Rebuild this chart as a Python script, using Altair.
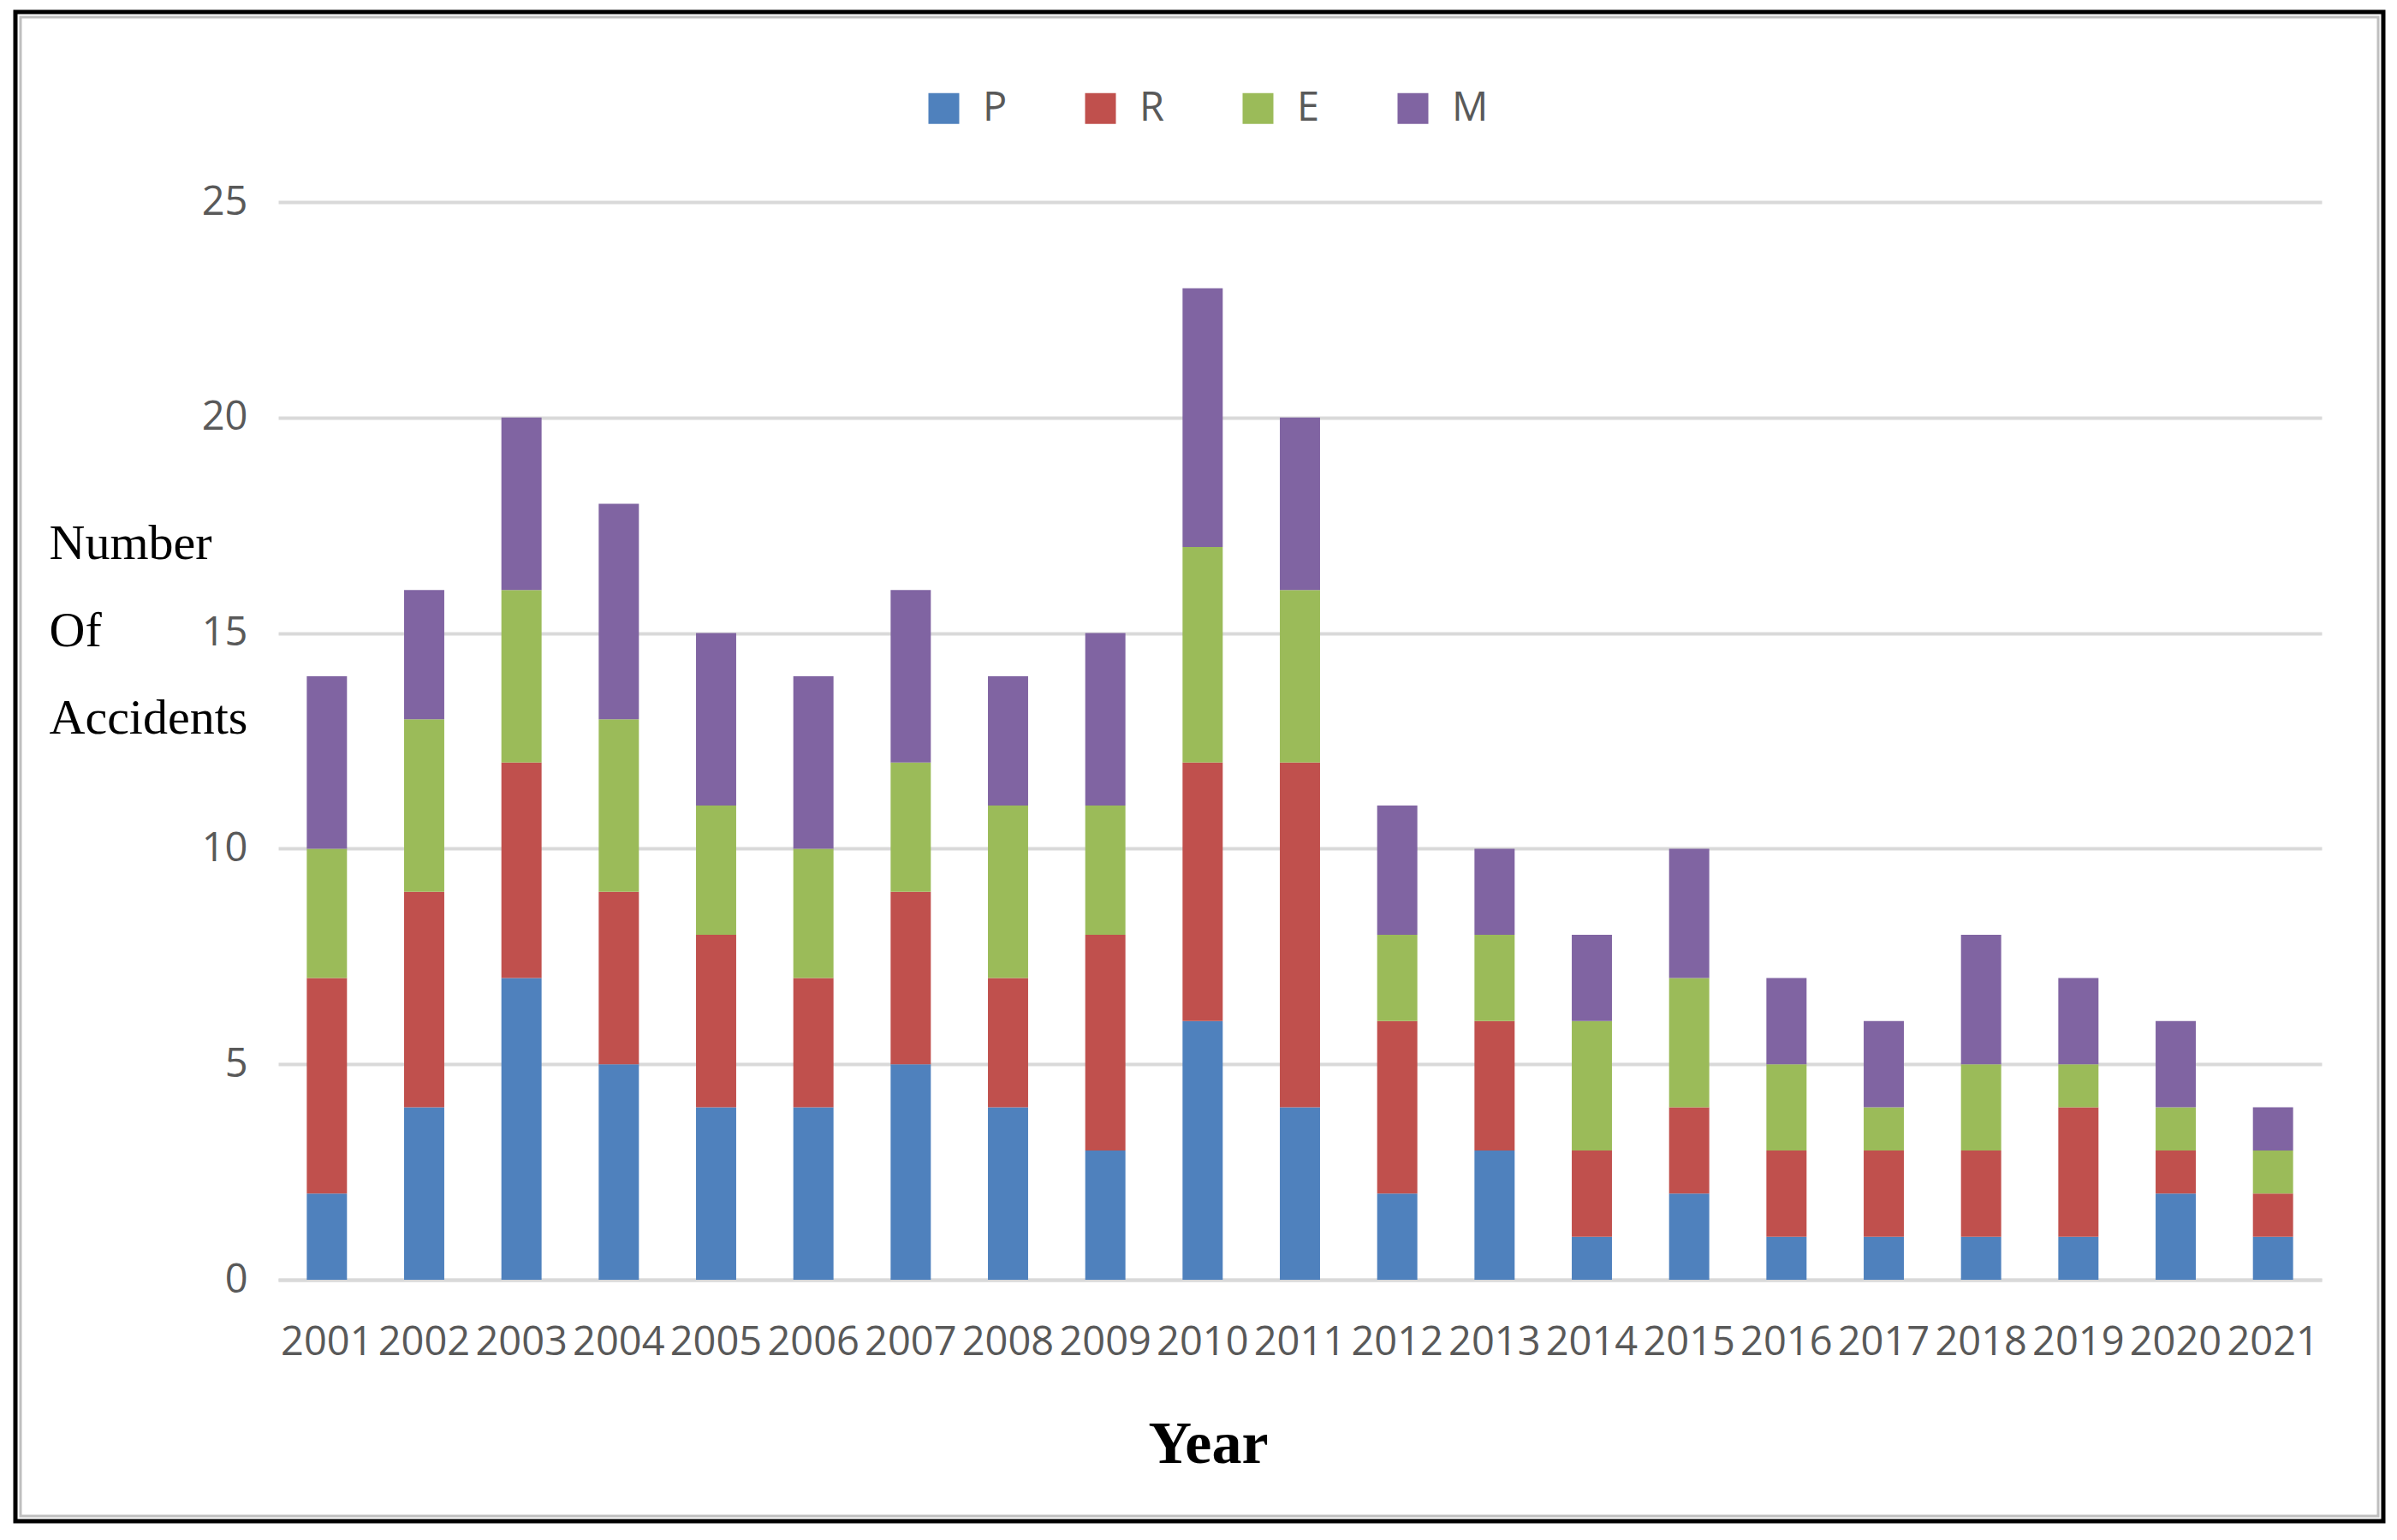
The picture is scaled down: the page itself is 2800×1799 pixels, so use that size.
import altair as alt
import pandas as pd

years = [str(y) for y in range(2001, 2022)]
P = [2, 4, 7, 5, 4, 4, 5, 4, 3, 6, 4, 2, 3, 1, 2, 1, 1, 1, 1, 2, 1]
R = [5, 5, 5, 4, 4, 3, 4, 3, 5, 6, 8, 4, 3, 2, 2, 2, 2, 2, 3, 1, 1]
E = [3, 4, 4, 4, 3, 3, 3, 4, 3, 5, 4, 2, 2, 3, 3, 2, 1, 2, 1, 1, 1]
M = [4, 3, 4, 5, 4, 4, 4, 3, 4, 6, 4, 3, 2, 2, 3, 2, 2, 3, 2, 2, 1]
series = ["P", "R", "E", "M"]
colors = ["#4F81BD", "#C0504D", "#9BBB59", "#8064A2"]

rows = []
for k, (name, vals) in enumerate(zip(series, [P, R, E, M])):
    for y, v in zip(years, vals):
        rows.append({"Year": y, "Type": name, "Count": v, "ord": k})
df = pd.DataFrame(rows)

TICK_FONT = "Open Sans, sans-serif"
SERIF = "Liberation Serif, Times New Roman, serif"

bars = alt.Chart(df).mark_bar().encode(
    x=alt.X("Year:N", sort=years,
            scale=alt.Scale(paddingInner=0.587, paddingOuter=0.2935),
            axis=alt.Axis(title="Year", labelAngle=0, labelFontSize=47,
                          labelFont=TICK_FONT, labelColor="#595959",
                          labelPadding=50, ticks=False, domainColor="#D9D9D9",
                          domainWidth=4, labelOverlap=False,
                          titleFont=SERIF, titleFontSize=70, titleFontWeight="bold",
                          titleColor="black", titleY=213, titleBaseline="alphabetic",
                          titleX=1086, titleAlign="center")),
    y=alt.Y("Count:Q", stack="zero",
            scale=alt.Scale(domain=[0, 25]),
            axis=alt.Axis(title=["Number", "Of", "Accidents"], values=[0, 5, 10, 15, 20, 25],
                          labelFontSize=47, labelFont=TICK_FONT, labelColor="#595959",
                          labelPadding=36, ticks=False, domain=False,
                          gridColor="#D9D9D9", gridWidth=4,
                          titleFont=SERIF, titleFontSize=58, titleFontWeight="normal",
                          titleColor="black", titleAngle=0, titleAlign="left",
                          titleBaseline="top", titleX=-268, titleY=370,
                          titleLineHeight=102)),
    color=alt.Color("Type:N", sort=series,
                    scale=alt.Scale(domain=series, range=colors),
                    legend=alt.Legend(title=None, orient="none", direction="horizontal",
                                      legendX=754, legendY=-133,
                                      symbolType="square", symbolSize=1296,
                                      symbolStrokeWidth=0,
                                      labelFontSize=47, labelFont=TICK_FONT,
                                      labelColor="#595959", labelOffset=22,
                                      columnPadding=85)),
    order=alt.Order("ord:Q", sort="ascending"),
)

frame_df = pd.DataFrame({"a": [0]})
frame_outer = alt.Chart(frame_df).mark_rect(fillOpacity=0, stroke="black", strokeWidth=5).encode(
    x=alt.value(-307), x2=alt.value(2459), y=alt.value(-222), y2=alt.value(1541))
frame_inner = alt.Chart(frame_df).mark_rect(fillOpacity=0, stroke="#BFBFBF", strokeWidth=3).encode(
    x=alt.value(-301), x2=alt.value(2453), y=alt.value(-216), y2=alt.value(1535))

chart = alt.layer(bars, frame_outer, frame_inner).properties(
    width=2387, height=1259,
    autosize=alt.AutoSizeParams(type="none"),
    padding={"left": 317, "top": 228, "right": 76, "bottom": 288},
    background="white",
).configure_view(stroke=None)

chart.save("out.html", embed_options={"renderer": "svg", "actions": False})
